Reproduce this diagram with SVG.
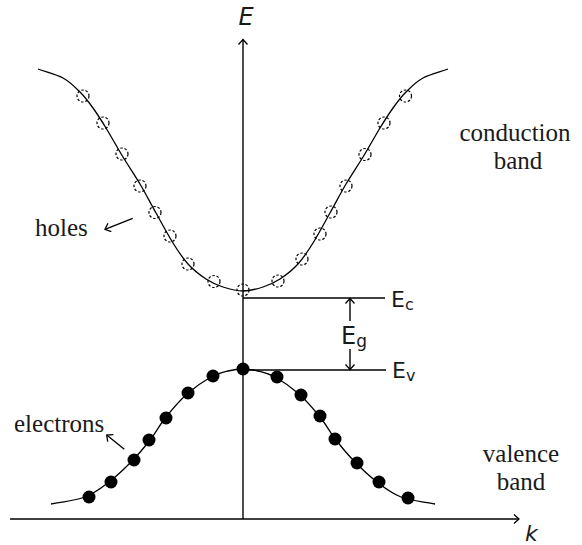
<svg xmlns="http://www.w3.org/2000/svg" width="582" height="545" viewBox="0 0 582 545">
<style>
.ax{stroke:#000;stroke-width:1.4;fill:none}
.cv{stroke:#000;stroke-width:1.3;fill:none}
.ln{stroke:#000;stroke-width:1.4;fill:none}
.hole{fill:none;stroke:#000;stroke-width:1.2;stroke-dasharray:2.5,1.8}
.el{fill:#000}
.sans{font-family:"DejaVu Sans",Verdana,sans-serif;fill:#1a1a1a}
.serif{font-family:"Liberation Serif","Times New Roman",serif;fill:#1a1a1a;font-size:25px}
</style>
<defs>
<marker id="arr" viewBox="0 0 10 10" refX="8" refY="5" markerWidth="10" markerHeight="10" markerUnits="userSpaceOnUse" orient="auto">
<path d="M3,0.5 L8,5 L3,9.5" fill="none" stroke="#000" stroke-width="1.3"/>
</marker>
<path id="cbHalf" d="M243,291 C236.3,291 229.2,289 223,287 C216.8,285 211.8,282.8 206,279 C200.2,275.2 193.5,270 188,264 C182.5,258 178.3,251.5 173,243 C167.7,234.5 161.5,222.8 156,213 C150.5,203.2 145.5,193.3 140,184 C134.5,174.7 128.7,166.3 123,157 C117.3,147.7 111,136.2 106,128 C101,119.8 97.3,114 93,108 C88.7,102 85,97 80,92 C75,87 70,81.8 63,78 C56,74.2 46.3,72 38,69"/>
<path id="vbHalf" d="M243,369 C238,369 233.3,369.7 228,371 C222.7,372.3 217.8,373.2 211,377 C204.2,380.8 194.5,387.3 187,394 C179.5,400.7 172.2,409.3 166,417 C159.8,424.7 155.7,432.7 150,440 C144.3,447.3 138.8,454 132,461 C125.2,468 116.8,476 109,482 C101.2,488 94.7,493.3 85,497 C75.3,500.7 62.3,501.7 51,504"/>
</defs>

<g id="connectors">
<line id="k-axis" class="ax" x1="10" y1="519" x2="519" y2="519" marker-end="url(#arr)"/>
<line id="E-axis" class="ax" x1="243" y1="519" x2="243" y2="39.5" marker-end="url(#arr)"/>
<line id="Ec-line" class="ln" x1="243" y1="298" x2="385" y2="298"/>
<line id="Ev-line" class="ln" x1="243" y1="370" x2="386" y2="370"/>
<line id="Eg-up" class="ln" x1="350" y1="321" x2="350" y2="298.5" marker-end="url(#arr)"/>
<line id="Eg-down" class="ln" x1="350" y1="349" x2="350" y2="369.5" marker-end="url(#arr)"/>
<line id="holes-arrow" class="ln" x1="132.7" y1="218.3" x2="105" y2="229.3" marker-end="url(#arr)"/>
<line id="electrons-arrow" class="ln" x1="124.3" y1="449.3" x2="106.7" y2="435" marker-end="url(#arr)"/>
</g>

<g id="conduction-band">
<use href="#cbHalf" class="cv"/>
<use href="#cbHalf" class="cv" transform="translate(486,0) scale(-1,1)"/>
</g>

<g id="valence-band">
<use href="#vbHalf" class="cv"/>
<use href="#vbHalf" class="cv" transform="translate(486,0) scale(-1,1)"/>
</g>

<g id="holes">
<circle class="hole" cx="83" cy="96" r="6"/>
<circle class="hole" cx="103" cy="123" r="6"/>
<circle class="hole" cx="122" cy="154" r="6"/>
<circle class="hole" cx="140" cy="186" r="6"/>
<circle class="hole" cx="155" cy="212.5" r="6"/>
<circle class="hole" cx="170" cy="236" r="6"/>
<circle class="hole" cx="188" cy="264" r="6"/>
<circle class="hole" cx="214" cy="281.5" r="6"/>
<circle class="hole" cx="243" cy="290" r="6"/>
<circle class="hole" cx="278" cy="281" r="6"/>
<circle class="hole" cx="302" cy="259" r="6"/>
<circle class="hole" cx="320" cy="234" r="6"/>
<circle class="hole" cx="331" cy="212" r="6"/>
<circle class="hole" cx="346" cy="186" r="6"/>
<circle class="hole" cx="365" cy="154.5" r="6"/>
<circle class="hole" cx="384" cy="123" r="6"/>
<circle class="hole" cx="405.5" cy="96" r="6"/>
</g>

<g id="electrons">
<circle class="el" cx="89" cy="497" r="6.5"/>
<circle class="el" cx="111" cy="482" r="6.5"/>
<circle class="el" cx="134" cy="460" r="6.5"/>
<circle class="el" cx="149" cy="440" r="6.5"/>
<circle class="el" cx="166" cy="418" r="6.5"/>
<circle class="el" cx="188" cy="393" r="6.5"/>
<circle class="el" cx="213" cy="376" r="6.5"/>
<circle class="el" cx="243" cy="369" r="6.5"/>
<circle class="el" cx="277" cy="377" r="6.5"/>
<circle class="el" cx="301" cy="395" r="6.5"/>
<circle class="el" cx="320" cy="416" r="6.5"/>
<circle class="el" cx="335" cy="439" r="6.5"/>
<circle class="el" cx="357" cy="463" r="6.5"/>
<circle class="el" cx="379" cy="482" r="6.5"/>
<circle class="el" cx="408" cy="498" r="6.5"/>
</g>

<g id="labels">
<text class="sans" x="246" y="25" font-size="24" font-style="italic" text-anchor="middle">E</text>
<text class="sans" x="525" y="541" font-size="22" font-style="italic">k</text>
<text id="Ec-label" class="sans" x="391" y="307" font-size="22">E<tspan font-size="16" dy="3">c</tspan></text>
<text id="Eg-label" class="sans" x="341" y="344" font-size="24">E<tspan font-size="17" dy="3">g</tspan></text>
<text id="Ev-label" class="sans" x="392" y="378" font-size="22">E<tspan font-size="16" dy="3">v</tspan></text>
<text class="serif" x="35" y="236">holes</text>
<text class="serif" x="14" y="432">electrons</text>
<text class="serif" x="515" y="141" text-anchor="middle">conduction</text>
<text class="serif" x="518" y="169" text-anchor="middle">band</text>
<text class="serif" x="521" y="462" text-anchor="middle">valence</text>
<text class="serif" x="521" y="490" text-anchor="middle">band</text>
</g>
</svg>
